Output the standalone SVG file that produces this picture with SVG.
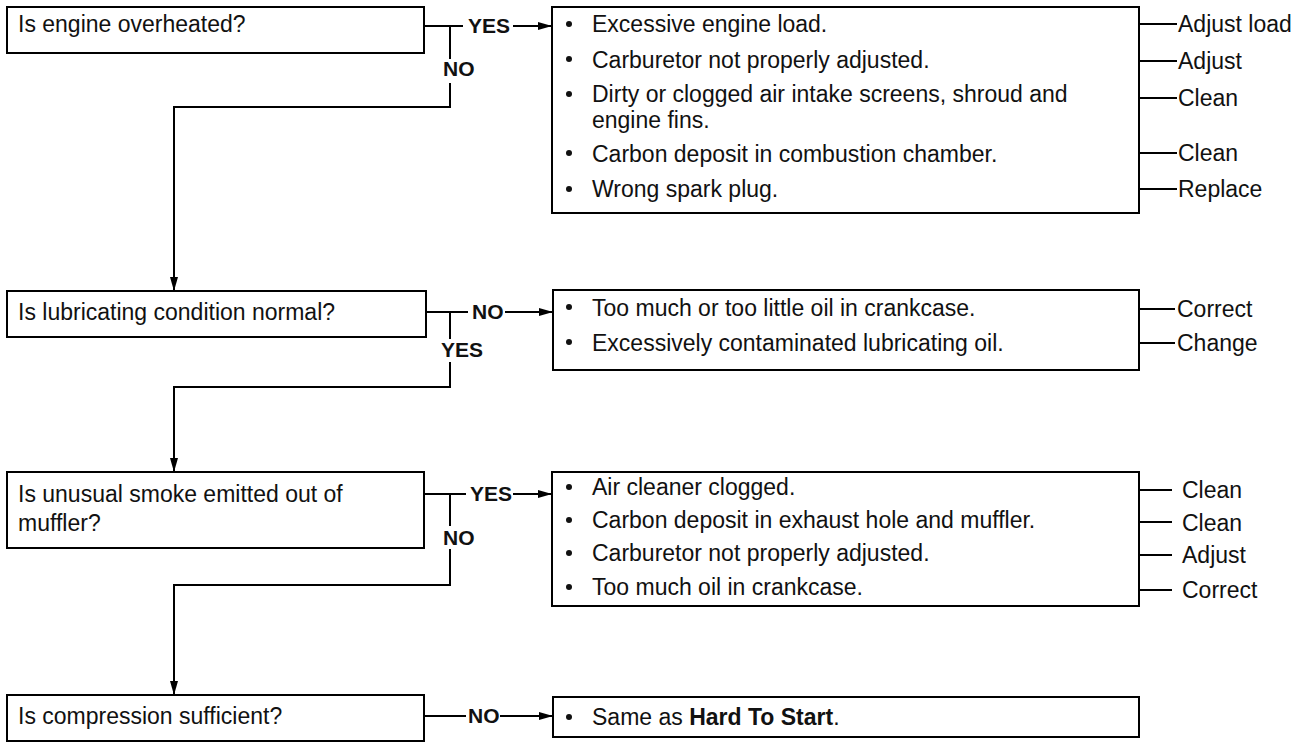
<svg xmlns="http://www.w3.org/2000/svg" width="1309" height="742" viewBox="0 0 1309 742">
<style>
.box{fill:#fff;stroke:#000;stroke-width:2}
.ln{fill:none;stroke:#000;stroke-width:2}
.t{font-family:"Liberation Sans",Arial,sans-serif;font-size:23px;fill:#111}
.lb{font-family:"Liberation Sans",Arial,sans-serif;font-size:21px;font-weight:bold;fill:#111}
.b{fill:#111}
</style>
<defs>
<marker id="ah" markerWidth="14" markerHeight="10" refX="13" refY="5" orient="auto" markerUnits="userSpaceOnUse">
<path d="M0,1 L14,5 L0,9 Z" fill="#000"/>
</marker>
</defs>
<rect width="1309" height="742" fill="#fff"/>

<g id="connectors">
<path class="ln" d="M424,26 H463"/>
<path class="ln" d="M513,26 H551" marker-end="url(#ah)"/>
<path class="ln" d="M450,26 V59"/>
<path class="ln" d="M450,83 V107 H174 V290" marker-end="url(#ah)"/>
<path class="ln" d="M426,312 H468"/>
<path class="ln" d="M505,312 H552" marker-end="url(#ah)"/>
<path class="ln" d="M450,312 V339"/>
<path class="ln" d="M450,362 V387 H174 V471" marker-end="url(#ah)"/>
<path class="ln" d="M424,494 H466"/>
<path class="ln" d="M513,494 H551" marker-end="url(#ah)"/>
<path class="ln" d="M450,494 V526"/>
<path class="ln" d="M450,549 V585 H174 V694" marker-end="url(#ah)"/>
<path class="ln" d="M424,716 H466"/>
<path class="ln" d="M500,716 H552" marker-end="url(#ah)"/>
<path class="ln" d="M1139,24 H1177 M1139,61 H1177 M1139,98 H1177 M1139,153 H1177 M1139,189 H1177"/>
<path class="ln" d="M1139,309 H1175 M1139,343 H1175"/>
<path class="ln" d="M1139,490 H1172 M1139,522 H1172 M1139,555 H1172 M1139,590 H1172"/>
<text class="lb" x="468" y="33">YES</text>
<text class="lb" x="443" y="76">NO</text>
<text class="lb" x="472" y="319">NO</text>
<text class="lb" x="441" y="357">YES</text>
<text class="lb" x="470" y="501">YES</text>
<text class="lb" x="443" y="545">NO</text>
<text class="lb" x="468" y="723">NO</text>
</g>

<g id="q1">
<rect class="box" x="7" y="7" width="417" height="46"/>
<text class="t" x="18" y="32">Is engine overheated?</text>
</g>
<g id="a1">
<rect class="box" x="552" y="7" width="587" height="206"/>
<circle class="b" cx="569" cy="24" r="3"/>
<text class="t" x="592" y="32">Excessive engine load.</text>
<circle class="b" cx="569" cy="59" r="3"/>
<text class="t" x="592" y="68">Carburetor not properly adjusted.</text>
<circle class="b" cx="569" cy="94" r="3"/>
<text class="t" x="592" y="102">Dirty or clogged air intake screens, shroud and</text>
<text class="t" x="592" y="128">engine fins.</text>
<circle class="b" cx="569" cy="153" r="3"/>
<text class="t" x="592" y="162">Carbon deposit in combustion chamber.</text>
<circle class="b" cx="569" cy="189" r="3"/>
<text class="t" x="592" y="197">Wrong spark plug.</text>
</g>
<g id="r1">
<text class="t" x="1178" y="32">Adjust load</text>
<text class="t" x="1178" y="69">Adjust</text>
<text class="t" x="1178" y="106">Clean</text>
<text class="t" x="1178" y="161">Clean</text>
<text class="t" x="1178" y="197">Replace</text>
</g>

<g id="q2">
<rect class="box" x="7" y="291" width="419" height="46"/>
<text class="t" x="18" y="320">Is lubricating condition normal?</text>
</g>
<g id="a2">
<rect class="box" x="553" y="290" width="586" height="80"/>
<circle class="b" cx="569" cy="307" r="3"/>
<text class="t" x="592" y="316">Too much or too little oil in crankcase.</text>
<circle class="b" cx="569" cy="342" r="3"/>
<text class="t" x="592" y="351">Excessively contaminated lubricating oil.</text>
</g>
<g id="r2">
<text class="t" x="1177" y="317">Correct</text>
<text class="t" x="1177" y="351">Change</text>
</g>

<g id="q3">
<rect class="box" x="7" y="472" width="417" height="76"/>
<text class="t" x="18" y="502">Is unusual smoke emitted out of</text>
<text class="t" x="18" y="531">muffler?</text>
</g>
<g id="a3">
<rect class="box" x="552" y="472" width="587" height="134"/>
<circle class="b" cx="569" cy="487" r="3"/>
<text class="t" x="592" y="495">Air cleaner clogged.</text>
<circle class="b" cx="569" cy="520" r="3"/>
<text class="t" x="592" y="528">Carbon deposit in exhaust hole and muffler.</text>
<circle class="b" cx="569" cy="553" r="3"/>
<text class="t" x="592" y="561">Carburetor not properly adjusted.</text>
<circle class="b" cx="569" cy="587" r="3"/>
<text class="t" x="592" y="595">Too much oil in crankcase.</text>
</g>
<g id="r3">
<text class="t" x="1182" y="498">Clean</text>
<text class="t" x="1182" y="531">Clean</text>
<text class="t" x="1182" y="563">Adjust</text>
<text class="t" x="1182" y="598">Correct</text>
</g>

<g id="q4">
<rect class="box" x="7" y="695" width="417" height="46"/>
<text class="t" x="18" y="724">Is compression sufficient?</text>
</g>
<g id="a4">
<rect class="box" x="553" y="697" width="586" height="40"/>
<circle class="b" cx="569" cy="717" r="3"/>
<text class="t" x="592" y="725">Same as <tspan font-weight="bold">Hard To Start</tspan>.</text>
</g>
</svg>
